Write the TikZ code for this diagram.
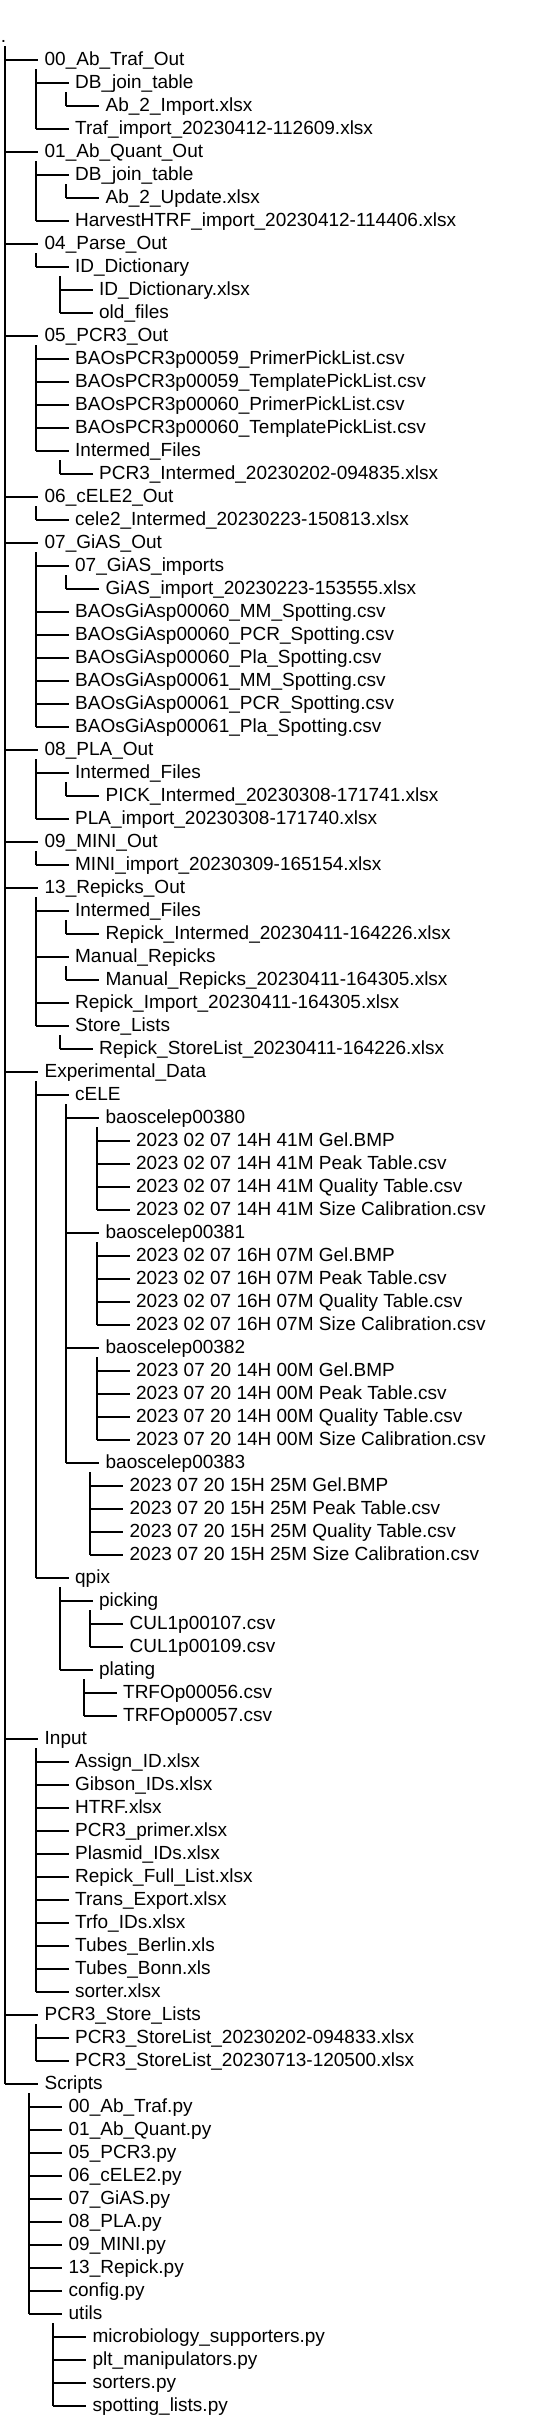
\documentclass[tikz,border=0pt]{standalone}
\usepackage{fontspec}
\setmainfont{Liberation Sans}

\tikzset{every picture/.style={line width=0.75pt}}
\tikzset{
  entry/.style={anchor=west, inner sep=0pt, outer xsep=5pt, text height=10pt, text depth=2.5pt, font=\fontsize{14.25}{17}\selectfont},
  spine/.style={line width=1.5pt},
  branch/.style={line width=1pt}
}

\begin{document}
\begin{tikzpicture}[x=0.75pt,y=0.75pt,yscale=-1,xscale=1]
\useasboundingbox (0,0) rectangle (544,2434);

% Text Node
\node [entry, outer xsep=0pt] (root) at (1,37) {.};
% Text Node: 00_Ab_Traf_Out
\node [entry] (aTraf) at (38,60) {00\_Ab\_Traf\_Out};
\node [entry] (aTrafJoin) at (68.5,83) {DB\_join\_table};
\node [entry] (aTrafImp) at (99,106) {Ab\_2\_Import.xlsx};
\node [entry] (aTrafXl) at (68.5,129) {Traf\_import\_20230412-112609.xlsx};
% Text Node: 01_Ab_Quant_Out
\node [entry] (aQuant) at (38,152) {01\_Ab\_Quant\_Out};
\node [entry] (aQuantJoin) at (68.5,175) {DB\_join\_table};
\node [entry] (aQuantUpd) at (99,198) {Ab\_2\_Update.xlsx};
\node [entry] (aQuantXl) at (68.5,221) {HarvestHTRF\_import\_20230412-114406.xlsx};
% Text Node: 04_Parse_Out
\node [entry] (parse) at (38,244) {04\_Parse\_Out};
\node [entry] (idDict) at (68.5,267) {ID\_Dictionary};
\node [entry] (idDictXl) at (92.5,290) {ID\_Dictionary.xlsx};
\node [entry] (oldFiles) at (92.5,313) {old\_files};
% Text Node: 05_PCR3_Out
\node [entry] (pcr) at (38,336) {05\_PCR3\_Out};
\node [entry] (pcrA) at (68.5,359) {BAOsPCR3p00059\_PrimerPickList.csv};
\node [entry] (pcrB) at (68.5,382) {BAOsPCR3p00059\_TemplatePickList.csv};
\node [entry] (pcrC) at (68.5,405) {BAOsPCR3p00060\_PrimerPickList.csv};
\node [entry] (pcrD) at (68.5,428) {BAOsPCR3p00060\_TemplatePickList.csv};
\node [entry] (pcrIm) at (68.5,451) {Intermed\_Files};
\node [entry] (pcrImXl) at (92.5,474) {PCR3\_Intermed\_20230202-094835.xlsx};
% Text Node: 06_cELE2_Out
\node [entry] (celeTwo) at (38,497) {06\_cELE2\_Out};
\node [entry] (celeTwoXl) at (68.5,520) {cele2\_Intermed\_20230223-150813.xlsx};
% Text Node: 07_GiAS_Out
\node [entry] (gias) at (38,543) {07\_GiAS\_Out};
\node [entry] (giasImp) at (68.5,566) {07\_GiAS\_imports};
\node [entry] (giasImpXl) at (99,589) {GiAS\_import\_20230223-153555.xlsx};
\node [entry] (giasA) at (68.5,612) {BAOsGiAsp00060\_MM\_Spotting.csv};
\node [entry] (giasB) at (68.5,635) {BAOsGiAsp00060\_PCR\_Spotting.csv};
\node [entry] (giasC) at (68.5,658) {BAOsGiAsp00060\_Pla\_Spotting.csv};
\node [entry] (giasD) at (68.5,681) {BAOsGiAsp00061\_MM\_Spotting.csv};
\node [entry] (giasE) at (68.5,704) {BAOsGiAsp00061\_PCR\_Spotting.csv};
\node [entry] (giasF) at (68.5,727) {BAOsGiAsp00061\_Pla\_Spotting.csv};
% Text Node: 08_PLA_Out
\node [entry] (pla) at (38,750) {08\_PLA\_Out};
\node [entry] (plaIm) at (68.5,773) {Intermed\_Files};
\node [entry] (plaImXl) at (99,796) {PICK\_Intermed\_20230308-171741.xlsx};
\node [entry] (plaXl) at (68.5,819) {PLA\_import\_20230308-171740.xlsx};
% Text Node: 09_MINI_Out
\node [entry] (mini) at (38,842) {09\_MINI\_Out};
\node [entry] (miniXl) at (68.5,865) {MINI\_import\_20230309-165154.xlsx};
% Text Node: 13_Repicks_Out
\node [entry] (rep) at (38,888) {13\_Repicks\_Out};
\node [entry] (repIm) at (68.5,911) {Intermed\_Files};
\node [entry] (repImXl) at (99,934) {Repick\_Intermed\_20230411-164226.xlsx};
\node [entry] (repMan) at (68.5,957) {Manual\_Repicks};
\node [entry] (repManXl) at (99,980) {Manual\_Repicks\_20230411-164305.xlsx};
\node [entry] (repImp) at (68.5,1003) {Repick\_Import\_20230411-164305.xlsx};
\node [entry] (repSto) at (68.5,1026) {Store\_Lists};
\node [entry] (repStoXl) at (92.5,1049) {Repick\_StoreList\_20230411-164226.xlsx};
% Text Node: Experimental_Data
\node [entry] (exp) at (38,1072) {Experimental\_Data};
\node [entry] (cele) at (68.5,1095) {cELE};
\node [entry] (bA) at (99,1118) {baoscelep00380};
\node [entry] (bAgel) at (129.5,1141) {2023 02 07 14H 41M Gel.BMP};
\node [entry] (bApeak) at (129.5,1164) {2023 02 07 14H 41M Peak Table.csv};
\node [entry] (bAqual) at (129.5,1187) {2023 02 07 14H 41M Quality Table.csv};
\node [entry] (bAsize) at (129.5,1210) {2023 02 07 14H 41M Size Calibration.csv};
\node [entry] (bB) at (99,1233) {baoscelep00381};
\node [entry] (bBgel) at (129.5,1256) {2023 02 07 16H 07M Gel.BMP};
\node [entry] (bBpeak) at (129.5,1279) {2023 02 07 16H 07M Peak Table.csv};
\node [entry] (bBqual) at (129.5,1302) {2023 02 07 16H 07M Quality Table.csv};
\node [entry] (bBsize) at (129.5,1325) {2023 02 07 16H 07M Size Calibration.csv};
\node [entry] (bC) at (99,1348) {baoscelep00382};
\node [entry] (bCgel) at (129.5,1371) {2023 07 20 14H 00M Gel.BMP};
\node [entry] (bCpeak) at (129.5,1394) {2023 07 20 14H 00M Peak Table.csv};
\node [entry] (bCqual) at (129.5,1417) {2023 07 20 14H 00M Quality Table.csv};
\node [entry] (bCsize) at (129.5,1440) {2023 07 20 14H 00M Size Calibration.csv};
\node [entry] (bD) at (99,1463) {baoscelep00383};
\node [entry] (bDgel) at (123,1486) {2023 07 20 15H 25M Gel.BMP};
\node [entry] (bDpeak) at (123,1509) {2023 07 20 15H 25M Peak Table.csv};
\node [entry] (bDqual) at (123,1532) {2023 07 20 15H 25M Quality Table.csv};
\node [entry] (bDsize) at (123,1555) {2023 07 20 15H 25M Size Calibration.csv};
\node [entry] (qpix) at (68.5,1578) {qpix};
\node [entry] (picking) at (92.5,1601) {picking};
\node [entry] (culA) at (123,1624) {CUL1p00107.csv};
\node [entry] (culB) at (123,1647) {CUL1p00109.csv};
\node [entry] (plating) at (92.5,1670) {plating};
\node [entry] (trfoA) at (116.5,1693) {TRFOp00056.csv};
\node [entry] (trfoB) at (116.5,1716) {TRFOp00057.csv};
% Text Node: Input
\node [entry] (inp) at (38,1739) {Input};
\node [entry] (inA) at (68.5,1762) {Assign\_ID.xlsx};
\node [entry] (inB) at (68.5,1785) {Gibson\_IDs.xlsx};
\node [entry] (inC) at (68.5,1808) {HTRF.xlsx};
\node [entry] (inD) at (68.5,1831) {PCR3\_primer.xlsx};
\node [entry] (inE) at (68.5,1854) {Plasmid\_IDs.xlsx};
\node [entry] (inF) at (68.5,1877) {Repick\_Full\_List.xlsx};
\node [entry] (inG) at (68.5,1900) {Trans\_Export.xlsx};
\node [entry] (inH) at (68.5,1923) {Trfo\_IDs.xlsx};
\node [entry] (inI) at (68.5,1946) {Tubes\_Berlin.xls};
\node [entry] (inJ) at (68.5,1969) {Tubes\_Bonn.xls};
\node [entry] (inK) at (68.5,1992) {sorter.xlsx};
% Text Node: PCR3_Store_Lists
\node [entry] (store) at (38,2015) {PCR3\_Store\_Lists};
\node [entry] (storeA) at (68.5,2038) {PCR3\_StoreList\_20230202-094833.xlsx};
\node [entry] (storeB) at (68.5,2061) {PCR3\_StoreList\_20230713-120500.xlsx};
% Text Node: Scripts
\node [entry] (scr) at (38,2084) {Scripts};
\node [entry] (scrA) at (62,2107) {00\_Ab\_Traf.py};
\node [entry] (scrB) at (62,2130) {01\_Ab\_Quant.py};
\node [entry] (scrC) at (62,2153) {05\_PCR3.py};
\node [entry] (scrD) at (62,2176) {06\_cELE2.py};
\node [entry] (scrE) at (62,2199) {07\_GiAS.py};
\node [entry] (scrF) at (62,2222) {08\_PLA.py};
\node [entry] (scrG) at (62,2245) {09\_MINI.py};
\node [entry] (scrH) at (62,2268) {13\_Repick.py};
\node [entry] (scrI) at (62,2291) {config.py};
\node [entry] (utils) at (62,2314) {utils};
\node [entry] (utA) at (86,2337) {microbiology\_supporters.py};
\node [entry] (utB) at (86,2360) {plt\_manipulators.py};
\node [entry] (utC) at (86,2383) {sorters.py};
\node [entry] (utD) at (86,2406) {spotting\_lists.py};

%Spine tops
\coordinate (s-root) at (5,46);
\coordinate (s-aTraf) at (35.5,69);
\coordinate (s-aTrafJoin) at (66,92);
\coordinate (s-aQuant) at (35.5,161);
\coordinate (s-aQuantJoin) at (66,184);
\coordinate (s-parse) at (35.5,253);
\coordinate (s-idDict) at (59.5,276);
\coordinate (s-pcr) at (35.5,345);
\coordinate (s-pcrIm) at (59.5,460);
\coordinate (s-celeTwo) at (35.5,506);
\coordinate (s-gias) at (35.5,552);
\coordinate (s-giasImp) at (66,575);
\coordinate (s-pla) at (35.5,759);
\coordinate (s-plaIm) at (66,782);
\coordinate (s-mini) at (35.5,851);
\coordinate (s-rep) at (35.5,897);
\coordinate (s-repIm) at (66,920);
\coordinate (s-repMan) at (66,966);
\coordinate (s-repSto) at (59.5,1035);
\coordinate (s-exp) at (35.5,1081);
\coordinate (s-cele) at (66,1104);
\coordinate (s-bA) at (96.5,1127);
\coordinate (s-bB) at (96.5,1242);
\coordinate (s-bC) at (96.5,1357);
\coordinate (s-bD) at (90,1472);
\coordinate (s-qpix) at (59.5,1587);
\coordinate (s-picking) at (90,1610);
\coordinate (s-plating) at (83.5,1679);
\coordinate (s-inp) at (35.5,1748);
\coordinate (s-store) at (35.5,2024);
\coordinate (s-scr) at (29,2093);
\coordinate (s-utils) at (53,2323);

%Straight Lines: spines
\draw [spine] (s-root) -- (s-root |- scr.west);
\draw [spine] (s-aTraf) -- (s-aTraf |- aTrafXl.west);
\draw [spine] (s-aTrafJoin) -- (s-aTrafJoin |- aTrafImp.west);
\draw [spine] (s-aQuant) -- (s-aQuant |- aQuantXl.west);
\draw [spine] (s-aQuantJoin) -- (s-aQuantJoin |- aQuantUpd.west);
\draw [spine] (s-parse) -- (s-parse |- idDict.west);
\draw [spine] (s-idDict) -- (s-idDict |- oldFiles.west);
\draw [spine] (s-pcr) -- (s-pcr |- pcrIm.west);
\draw [spine] (s-pcrIm) -- (s-pcrIm |- pcrImXl.west);
\draw [spine] (s-celeTwo) -- (s-celeTwo |- celeTwoXl.west);
\draw [spine] (s-gias) -- (s-gias |- giasF.west);
\draw [spine] (s-giasImp) -- (s-giasImp |- giasImpXl.west);
\draw [spine] (s-pla) -- (s-pla |- plaXl.west);
\draw [spine] (s-plaIm) -- (s-plaIm |- plaImXl.west);
\draw [spine] (s-mini) -- (s-mini |- miniXl.west);
\draw [spine] (s-rep) -- (s-rep |- repSto.west);
\draw [spine] (s-repIm) -- (s-repIm |- repImXl.west);
\draw [spine] (s-repMan) -- (s-repMan |- repManXl.west);
\draw [spine] (s-repSto) -- (s-repSto |- repStoXl.west);
\draw [spine] (s-exp) -- (s-exp |- qpix.west);
\draw [spine] (s-cele) -- (s-cele |- bD.west);
\draw [spine] (s-bA) -- (s-bA |- bAsize.west);
\draw [spine] (s-bB) -- (s-bB |- bBsize.west);
\draw [spine] (s-bC) -- (s-bC |- bCsize.west);
\draw [spine] (s-bD) -- (s-bD |- bDsize.west);
\draw [spine] (s-qpix) -- (s-qpix |- plating.west);
\draw [spine] (s-picking) -- (s-picking |- culB.west);
\draw [spine] (s-plating) -- (s-plating |- trfoB.west);
\draw [spine] (s-inp) -- (s-inp |- inK.west);
\draw [spine] (s-store) -- (s-store |- storeB.west);
\draw [spine] (s-scr) -- (s-scr |- utils.west);
\draw [spine] (s-utils) -- (s-utils |- utD.west);

%Straight Lines: branches
\draw [branch] (s-root |- aTraf.west) -- (aTraf.west) (s-root |- aQuant.west) -- (aQuant.west) (s-root |- parse.west) -- (parse.west) (s-root |- pcr.west) -- (pcr.west) (s-root |- celeTwo.west) -- (celeTwo.west) (s-root |- gias.west) -- (gias.west) (s-root |- pla.west) -- (pla.west) (s-root |- mini.west) -- (mini.west) (s-root |- rep.west) -- (rep.west) (s-root |- exp.west) -- (exp.west) (s-root |- inp.west) -- (inp.west) (s-root |- store.west) -- (store.west) (s-root |- scr.west) -- (scr.west);
\draw [branch] (s-aTraf |- aTrafJoin.west) -- (aTrafJoin.west) (s-aTraf |- aTrafXl.west) -- (aTrafXl.west);
\draw [branch] (s-aTrafJoin |- aTrafImp.west) -- (aTrafImp.west);
\draw [branch] (s-aQuant |- aQuantJoin.west) -- (aQuantJoin.west) (s-aQuant |- aQuantXl.west) -- (aQuantXl.west);
\draw [branch] (s-aQuantJoin |- aQuantUpd.west) -- (aQuantUpd.west);
\draw [branch] (s-parse |- idDict.west) -- (idDict.west);
\draw [branch] (s-idDict |- idDictXl.west) -- (idDictXl.west) (s-idDict |- oldFiles.west) -- (oldFiles.west);
\draw [branch] (s-pcr |- pcrA.west) -- (pcrA.west) (s-pcr |- pcrB.west) -- (pcrB.west) (s-pcr |- pcrC.west) -- (pcrC.west) (s-pcr |- pcrD.west) -- (pcrD.west) (s-pcr |- pcrIm.west) -- (pcrIm.west);
\draw [branch] (s-pcrIm |- pcrImXl.west) -- (pcrImXl.west);
\draw [branch] (s-celeTwo |- celeTwoXl.west) -- (celeTwoXl.west);
\draw [branch] (s-gias |- giasImp.west) -- (giasImp.west) (s-gias |- giasA.west) -- (giasA.west) (s-gias |- giasB.west) -- (giasB.west) (s-gias |- giasC.west) -- (giasC.west) (s-gias |- giasD.west) -- (giasD.west) (s-gias |- giasE.west) -- (giasE.west) (s-gias |- giasF.west) -- (giasF.west);
\draw [branch] (s-giasImp |- giasImpXl.west) -- (giasImpXl.west);
\draw [branch] (s-pla |- plaIm.west) -- (plaIm.west) (s-pla |- plaXl.west) -- (plaXl.west);
\draw [branch] (s-plaIm |- plaImXl.west) -- (plaImXl.west);
\draw [branch] (s-mini |- miniXl.west) -- (miniXl.west);
\draw [branch] (s-rep |- repIm.west) -- (repIm.west) (s-rep |- repMan.west) -- (repMan.west) (s-rep |- repImp.west) -- (repImp.west) (s-rep |- repSto.west) -- (repSto.west);
\draw [branch] (s-repIm |- repImXl.west) -- (repImXl.west);
\draw [branch] (s-repMan |- repManXl.west) -- (repManXl.west);
\draw [branch] (s-repSto |- repStoXl.west) -- (repStoXl.west);
\draw [branch] (s-exp |- cele.west) -- (cele.west) (s-exp |- qpix.west) -- (qpix.west);
\draw [branch] (s-cele |- bA.west) -- (bA.west) (s-cele |- bB.west) -- (bB.west) (s-cele |- bC.west) -- (bC.west) (s-cele |- bD.west) -- (bD.west);
\draw [branch] (s-bA |- bAgel.west) -- (bAgel.west) (s-bA |- bApeak.west) -- (bApeak.west) (s-bA |- bAqual.west) -- (bAqual.west) (s-bA |- bAsize.west) -- (bAsize.west);
\draw [branch] (s-bB |- bBgel.west) -- (bBgel.west) (s-bB |- bBpeak.west) -- (bBpeak.west) (s-bB |- bBqual.west) -- (bBqual.west) (s-bB |- bBsize.west) -- (bBsize.west);
\draw [branch] (s-bC |- bCgel.west) -- (bCgel.west) (s-bC |- bCpeak.west) -- (bCpeak.west) (s-bC |- bCqual.west) -- (bCqual.west) (s-bC |- bCsize.west) -- (bCsize.west);
\draw [branch] (s-bD |- bDgel.west) -- (bDgel.west) (s-bD |- bDpeak.west) -- (bDpeak.west) (s-bD |- bDqual.west) -- (bDqual.west) (s-bD |- bDsize.west) -- (bDsize.west);
\draw [branch] (s-qpix |- picking.west) -- (picking.west) (s-qpix |- plating.west) -- (plating.west);
\draw [branch] (s-picking |- culA.west) -- (culA.west) (s-picking |- culB.west) -- (culB.west);
\draw [branch] (s-plating |- trfoA.west) -- (trfoA.west) (s-plating |- trfoB.west) -- (trfoB.west);
\draw [branch] (s-inp |- inA.west) -- (inA.west) (s-inp |- inB.west) -- (inB.west) (s-inp |- inC.west) -- (inC.west) (s-inp |- inD.west) -- (inD.west) (s-inp |- inE.west) -- (inE.west) (s-inp |- inF.west) -- (inF.west) (s-inp |- inG.west) -- (inG.west) (s-inp |- inH.west) -- (inH.west) (s-inp |- inI.west) -- (inI.west) (s-inp |- inJ.west) -- (inJ.west) (s-inp |- inK.west) -- (inK.west);
\draw [branch] (s-store |- storeA.west) -- (storeA.west) (s-store |- storeB.west) -- (storeB.west);
\draw [branch] (s-scr |- scrA.west) -- (scrA.west) (s-scr |- scrB.west) -- (scrB.west) (s-scr |- scrC.west) -- (scrC.west) (s-scr |- scrD.west) -- (scrD.west) (s-scr |- scrE.west) -- (scrE.west) (s-scr |- scrF.west) -- (scrF.west) (s-scr |- scrG.west) -- (scrG.west) (s-scr |- scrH.west) -- (scrH.west) (s-scr |- scrI.west) -- (scrI.west) (s-scr |- utils.west) -- (utils.west);
\draw [branch] (s-utils |- utA.west) -- (utA.west) (s-utils |- utB.west) -- (utB.west) (s-utils |- utC.west) -- (utC.west) (s-utils |- utD.west) -- (utD.west);

\end{tikzpicture}
\end{document}
